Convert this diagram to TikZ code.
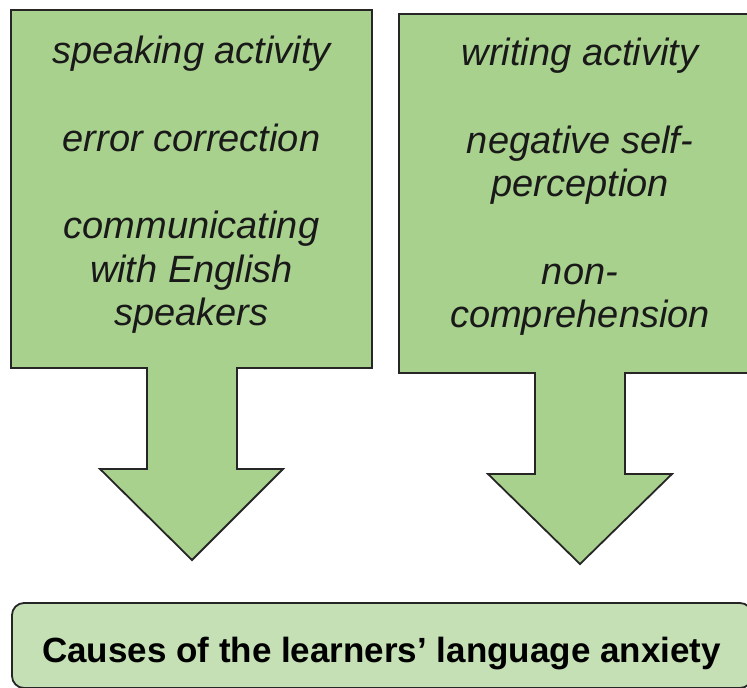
\documentclass[tikz,border=0pt]{standalone}
\usepackage{fontspec}
\setmainfont{Liberation Sans}
\definecolor{leaf}{HTML}{A9D18E}
\definecolor{paleleaf}{HTML}{C5E0B4}
\definecolor{edge}{HTML}{262626}
\tikzset{callout/.style={draw=edge,fill=leaf,line width=1.8pt,line join=miter},
    items/.style={anchor=north,inner sep=0pt,align=center,text=black!90,
    font=\fontsize{38}{43.7}\selectfont\itshape},
    result/.style={draw=edge,fill=paleleaf,line width=1.8pt,rounded corners=12pt},
    resulttext/.style={anchor=base,inner sep=0pt,font=\fontsize{35}{40}\selectfont\bfseries}}

\begin{document}
\begin{tikzpicture}[x=1pt,y=-1pt]
        \useasboundingbox (0,0) rectangle (747,688);
        % left callout with its arrow
        \draw[callout] (11,10)--(372,10)--(372,368)--(237,368)--(237,469)--(283,469)
            --(192,560)--(100,469)--(147,469)--(147,368)--(11,368)--cycle;
        % right callout, runs past the page edge
        \draw[callout] (399,14)--(765,14)--(765,373)--(625,373)--(625,474)--(672,474)
            --(580,564)--(488,474)--(535,474)--(535,373)--(399,373)--cycle;
        \node[items] (speaking) at (191.5,36) {speaking activity\\[43.7pt]error correction\\[43.7pt]communicating\\with English\\speakers};
        \node[items] (writing) at (580,38) {writing activity\\[43.7pt]negative self-\\perception\\[43.7pt]non-\\comprehension};
        \draw[result] (12,603) rectangle (752,688);
        \node[resulttext] (causes) at (381.5,662) {Causes of the learners’ language anxiety};
    \end{tikzpicture}
\end{document}
